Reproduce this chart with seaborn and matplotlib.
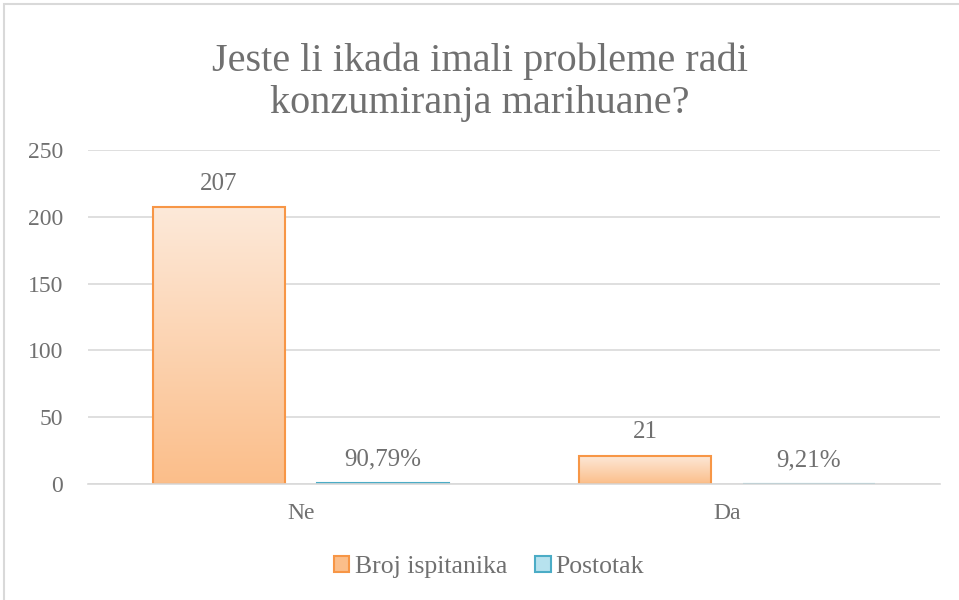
import numpy as np
import pandas as pd
import matplotlib
matplotlib.use("Agg")
import matplotlib.pyplot as plt
import seaborn as sns
from matplotlib.patches import Patch, Rectangle

# podaci
kategorije = ['Ne', 'Da']
broj_ispitanika = [207, 21]
postotak = [0.9079, 0.0921]
postotak_oznake = ['90,79%', '9,21%']
serije = ['Broj ispitanika', 'Postotak']

naslov = 'Jeste li ikada imali probleme radi\nkonzumiranja marihuane?'
y_ticks = [0, 50, 100, 150, 200, 250]

SIVA = '#707070'
MREZA = '#D9D9D9'
boje_rub = {'Broj ispitanika': '#F79646', 'Postotak': '#4BACC6'}
boje_gore = {'Broj ispitanika': '#FDE9D9', 'Postotak': '#EAF6FA'}
boje_dolje = {'Broj ispitanika': '#FBBE8A', 'Postotak': '#B7E2EE'}

df = pd.DataFrame({
    'kategorija': kategorije * 2,
    'vrijednost': broj_ispitanika + postotak,
    'serija': [serije[0]] * 2 + [serije[1]] * 2,
})

sns.set_style('white')
plt.rcParams['font.family'] = ['Liberation Serif', 'DejaVu Serif']

fig = plt.figure(figsize=(9.59, 6.0), dpi=100)
ax = fig.add_axes([0.0918, 0.1933, 0.8884, 0.5567])

sns.barplot(data=df, x='kategorija', y='vrijednost', hue='serija',
            hue_order=serije, order=kategorije, width=0.77, gap=0.19,
            palette=boje_rub, ax=ax, legend=False, errorbar=None)

ax.set_ylim(0, 250)
ax.set_yticks(y_ticks)
ax.yaxis.grid(True, color=MREZA, linewidth=1.2)
ax.set_axisbelow(True)
for s in ['top', 'right', 'left']:
    ax.spines[s].set_visible(False)
ax.spines['bottom'].set_color(MREZA)
ax.spines['bottom'].set_linewidth(1.2)
ax.tick_params(axis='both', length=0, labelsize=17, colors=SIVA)
ax.tick_params(axis='y', pad=18)
ax.tick_params(axis='x', pad=14)
ax.set_xlabel('')
ax.set_ylabel('')

# gradijent u stupcima
grad = np.linspace(0, 1, 256).reshape(-1, 1)
for cont, serija in zip(ax.containers, serije):
    cmap = matplotlib.colors.LinearSegmentedColormap.from_list(
        serija, [boje_dolje[serija], boje_gore[serija]])
    for bar in cont:
        x0, y0 = bar.get_x(), bar.get_y()
        w, h = bar.get_width(), bar.get_height()
        bar.set_facecolor('none')
        bar.set_edgecolor(boje_rub[serija])
        bar.set_linewidth(1.5)
        im = ax.imshow(grad, extent=[x0, x0 + w, y0, y0 + h], origin='lower',
                       cmap=cmap, aspect='auto', zorder=bar.get_zorder() - 0.1)
        im.set_clip_path(bar)

ax.set_xlim(-0.5, 1.5)
ax.set_ylim(0, 250)

ax.bar_label(ax.containers[0], labels=[str(v) for v in broj_ispitanika],
             padding=9, fontsize=18, color=SIVA)
ax.bar_label(ax.containers[1], labels=postotak_oznake,
             padding=9, fontsize=18, color=SIVA)

fig.text(0.5, 0.93, naslov, ha='center', va='top', fontsize=29,
         color=SIVA, linespacing=1.2)

ruke = [Patch(facecolor=boje_dolje[s], edgecolor=boje_rub[s], linewidth=1.5, label=s)
        for s in serije]
fig.legend(handles=ruke, loc='center', bbox_to_anchor=(0.51, 0.055), ncol=2,
           frameon=False, fontsize=18.5, labelcolor=SIVA, handlelength=0.6,
           handleheight=0.6, handletextpad=0.2, columnspacing=1.1)

fig.patches.append(Rectangle((0.004, -0.01), 0.999, 1.004, transform=fig.transFigure,
                             fill=False, edgecolor=MREZA, linewidth=1.5))

fig.savefig('out.png', dpi=100)
